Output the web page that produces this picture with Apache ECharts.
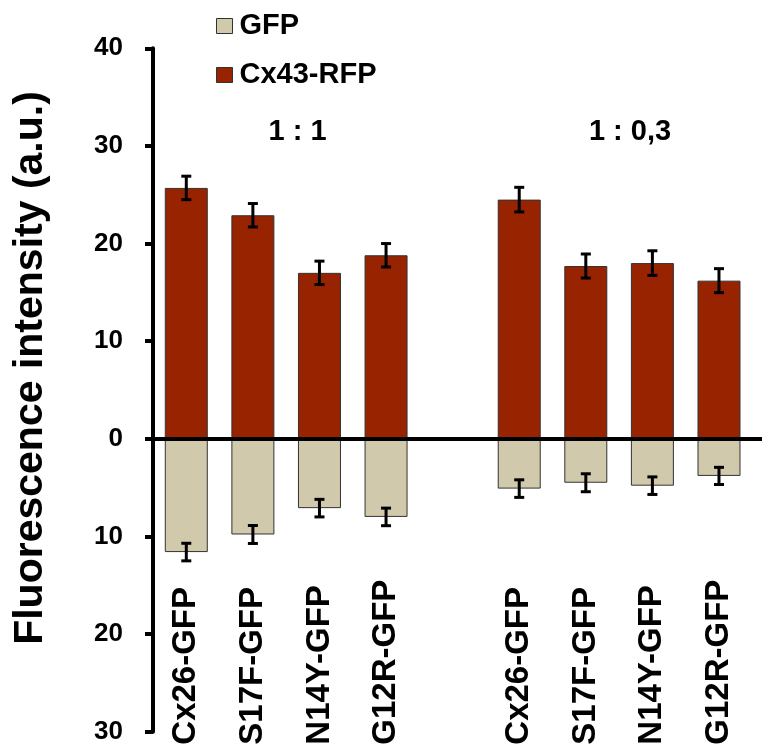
<!DOCTYPE html>
<html>
<head>
<meta charset="utf-8">
<script src="https://cdn.jsdelivr.net/npm/echarts@6/dist/echarts.min.js"></script>
<style>
html,body{margin:0;padding:0;background:#fff;}
#chart{width:762px;height:749px;}
</style>
</head>
<body>
<div id="chart"></div>
<script>
// ---- data ----
const categories = ['Cx26-GFP','S17F-GFP','N14Y-GFP','G12R-GFP','','Cx26-GFP','S17F-GFP','N14Y-GFP','G12R-GFP'];
const rfpValues = [25.7, 22.9, 17.0, 18.8, null, 24.5, 17.7, 18.0, 16.2];
const rfpErrors = [1.2, 1.2, 1.2, 1.2, null, 1.26, 1.23, 1.26, 1.23];
const gfpValues = [-11.6, -9.8, -7.1, -8.0, null, -5.1, -4.5, -4.8, -3.8];
const gfpErrors = [0.9, 0.92, 0.9, 0.9, null, 0.9, 0.92, 0.9, 0.88];
const groupLabels = ['1 : 1', '1 : 0,3'];
const seriesNames = ['GFP', 'Cx43-RFP'];
const yTitle = 'Fluorescence intensity (a.u.)';

const FONT = '"Liberation Sans", Arial, Helvetica, sans-serif';
const RED = '#982300';
const BEIGE = '#D1C9AB';

const labelIdx = categories.map((c,i)=>c ? i : null).filter(v=>v!==null);
const rfpData = labelIdx.map(i=>[i, rfpValues[i]]);
const gfpData = labelIdx.map(i=>[i, gfpValues[i]]);
const errData = labelIdx.map(i=>[i, rfpValues[i], rfpErrors[i]])
  .concat(labelIdx.map(i=>[i, gfpValues[i], gfpErrors[i]]));

const chart = echarts.init(document.getElementById('chart'), null, {renderer:'canvas'});

chart.setOption({
  animation: false,
  backgroundColor: '#fff',
  grid: { left: 153, right: 0, top: 48.3, bottom: 17.3, containLabel: false, outerBoundsMode: 'none' },
  legend: {
    orient: 'vertical',
    left: 211, top: 6,
    itemWidth: 16, itemHeight: 15,
    itemGap: 19,
    icon: 'rect',
    data: seriesNames,
    itemStyle: { borderColor: '#333', borderWidth: 1 },
    textStyle: { fontFamily: FONT, fontWeight: 'bold', fontSize: 29, color: '#000', lineHeight: 30, padding: [0,0,0,2] }
  },
  xAxis: {
    type: 'value',
    min: -0.5, max: 8.646,
    z: 10,
    axisLine: { show: true, onZero: true, lineStyle: { color: '#000', width: 4 } },
    axisTick: { show: false },
    splitLine: { show: false },
    axisLabel: {
      show: true,
      customValues: labelIdx,
      formatter: v => categories[Math.round(v)] || '',
      rotate: 90,
      align: 'left',
      margin: 13,
      fontFamily: FONT, fontWeight: 'bold', fontSize: 33, color: '#000'
    }
  },
  yAxis: {
    type: 'value',
    min: -30, max: 40, interval: 10,
    z: 10,
    axisLine: { show: true, onZero: false, lineStyle: { color: '#000', width: 4 } },
    axisTick: { show: true, inside: false, length: 8, lineStyle: { color: '#000', width: 4 } },
    splitLine: { show: false },
    axisLabel: {
      margin: 30,
      padding: [9, 0, 0, 0],
      formatter: v => String(Math.abs(v)),
      fontFamily: FONT, fontWeight: 'bold', fontSize: 26, color: '#000'
    }
  },
  graphic: [
    { type: 'text', x: 31, y: 368, rotation: Math.PI/2,
      style: { text: yTitle, font: 'bold 41px ' + FONT, fill: '#000', align: 'center', verticalAlign: 'middle' } },
    { type: 'text', x: 297.5, y: 132,
      style: { text: groupLabels[0], font: 'bold 29px ' + FONT, fill: '#000', align: 'center', verticalAlign: 'middle' } },
    { type: 'text', x: 630, y: 132,
      style: { text: groupLabels[1], font: 'bold 29px ' + FONT, fill: '#000', align: 'center', verticalAlign: 'middle' } }
  ],
  series: [
    { name: seriesNames[1], type: 'bar', stack: 'a', barWidth: 43, data: rfpData,
      itemStyle: { color: RED, borderColor: '#333', borderWidth: 1 } },
    { name: seriesNames[0], type: 'bar', stack: 'a', barWidth: 43, data: gfpData,
      itemStyle: { color: BEIGE, borderColor: '#333', borderWidth: 1 } },
    { name: 'err', type: 'custom', z: 5, data: errData,
      encode: { x: 0, y: 1 },
      renderItem: function (params, api) {
        const x = api.value(0), v = api.value(1), e = api.value(2);
        const t = api.coord([x, v + e]);
        const b = api.coord([x, v - e]);
        const w = 5;
        const st = { stroke: '#000', lineWidth: 3 };
        return { type: 'group', children: [
          { type: 'line', shape: { x1: t[0], y1: t[1], x2: b[0], y2: b[1] }, style: st },
          { type: 'line', shape: { x1: t[0]-w, y1: t[1], x2: t[0]+w, y2: t[1] }, style: st },
          { type: 'line', shape: { x1: b[0]-w, y1: b[1], x2: b[0]+w, y2: b[1] }, style: st }
        ]};
      }
    }
  ]
});
</script>
</body>
</html>
